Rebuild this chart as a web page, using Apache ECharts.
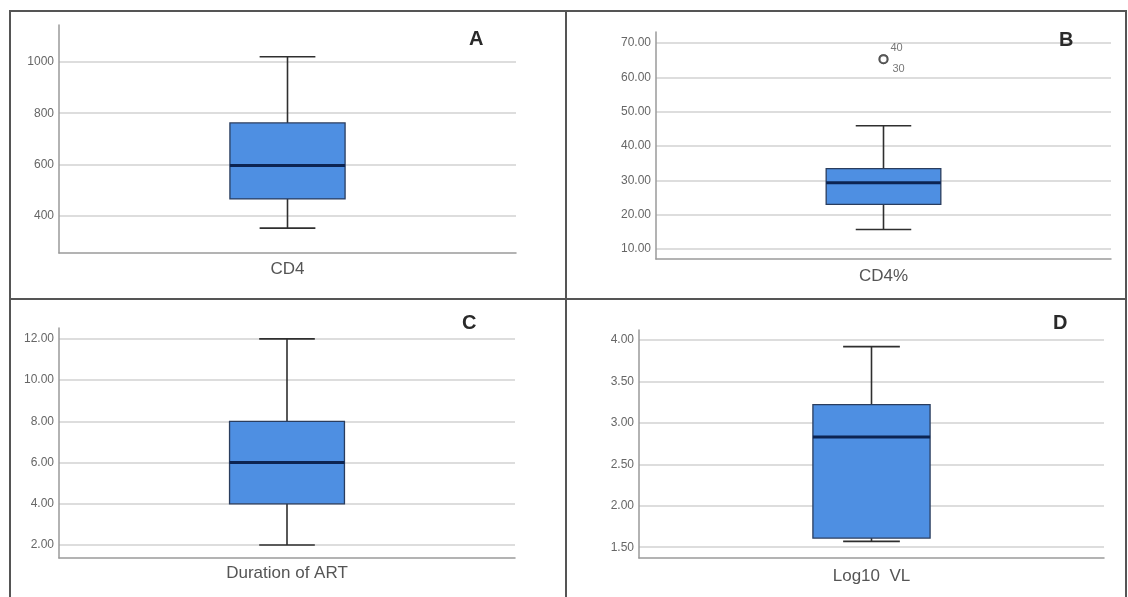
<!DOCTYPE html>
<html><head><meta charset="utf-8">
<script src="https://cdn.jsdelivr.net/npm/echarts@6/dist/echarts.min.js"></script>
<style>html,body{margin:0;padding:0;background:#fff}#c{width:1128px;height:597px}</style>
</head><body><div id="c"></div>
<script>
const categories = ['CD4', 'CD4%', 'Duration of ART', 'Log10  VL'];
const panelLetters = ['A', 'B', 'C', 'D'];
// [lower whisker, Q1, median, Q3, upper whisker]
const statsCD4 = [352, 466, 596, 762, 1020];
const statsCD4pct = [15.7, 23.0, 29.3, 33.4, 45.9];
const statsART = [2, 4, 6, 8, 12];
const statsVL = [1.57, 1.61, 2.83, 3.22, 3.92];
const outliersCD4pct = [65.3, 65.3];
const outlierCaseIds = ['40', '30'];
const ticksCD4 = [400, 600, 800, 1000];
const ticksCD4pct = [10, 20, 30, 40, 50, 60, 70];
const ticksART = [2, 4, 6, 8, 10, 12];
const ticksVL = [1.5, 2, 2.5, 3, 3.5, 4];
const rangeCD4 = [255, 1144];
const rangeCD4pct = [7.1, 73.2];
const rangeART = [1.37, 12.53];
const rangeVL = [1.37, 4.12];

const allStats = [statsCD4, statsCD4pct, statsART, statsVL];
const allTicks = [ticksCD4, ticksCD4pct, ticksART, ticksVL];
const allRanges = [rangeCD4, rangeCD4pct, rangeART, rangeVL];
const decimals = [0, 2, 2, 2];

const grids = [
  {left: 59, top: 25, width: 457, height: 228},
  {left: 656, top: 32, width: 455, height: 227},
  {left: 59, top: 328, width: 456, height: 230},
  {left: 639, top: 330, width: 465, height: 228}
];
const labelMargins = [8, 9, 7, 10];

function boxRender(params, api) {
  const x = api.value(0);
  const lo = api.coord([x, api.value(1)]);
  const q1 = api.coord([x, api.value(2)]);
  const md = api.coord([x, api.value(3)]);
  const q3 = api.coord([x, api.value(4)]);
  const hi = api.coord([x, api.value(5)]);
  const band = api.size([1, 0])[0];
  const bw = band * 0.252, cw = band * 0.122;
  const cx = lo[0];
  const ws = {stroke: '#2f2f2f', lineWidth: 1.6};
  return {type: 'group', children: [
    {type: 'line', shape: {x1: cx, y1: hi[1], x2: cx, y2: q3[1]}, style: ws},
    {type: 'line', shape: {x1: cx, y1: q1[1], x2: cx, y2: lo[1]}, style: ws},
    {type: 'line', shape: {x1: cx - cw / 2, y1: hi[1], x2: cx + cw / 2, y2: hi[1]}, style: ws},
    {type: 'line', shape: {x1: cx - cw / 2, y1: lo[1], x2: cx + cw / 2, y2: lo[1]}, style: ws},
    {type: 'rect', shape: {x: cx - bw / 2, y: q3[1], width: bw, height: q1[1] - q3[1]},
      style: {fill: '#4e8fe2', stroke: '#2a3d5e', lineWidth: 1.3}},
    {type: 'line', shape: {x1: cx - bw / 2, y1: md[1], x2: cx + bw / 2, y2: md[1]},
      style: {stroke: '#0c2452', lineWidth: 3}}
  ]};
}

const FONT = 'Liberation Sans, Arial, sans-serif';
const xAxes = [], yAxes = [], series = [], titles = [];
const letterPos = [[464, 24], [1054, 25], [457, 308], [1048, 308]];
for (let i = 0; i < 4; i++) {
  xAxes.push({
    type: 'category', gridIndex: i, data: [categories[i]],
    axisLine: {show: true, lineStyle: {color: '#9a9a9a', width: 1.5}},
    axisTick: {show: false},
    axisLabel: {color: '#555', fontSize: 17, margin: labelMargins[i], fontFamily: FONT},
    splitLine: {show: false}
  });
  const dec = decimals[i];
  yAxes.push({
    type: 'value', gridIndex: i, min: allRanges[i][0], max: allRanges[i][1],
    axisLine: {show: true, lineStyle: {color: '#9a9a9a', width: 1.5}},
    axisTick: {show: false, customValues: allTicks[i]},
    axisLabel: {customValues: allTicks[i], color: '#666', fontSize: 12, margin: 5,
      fontFamily: FONT,
      formatter: v => Number(v).toFixed(dec)},
    splitLine: {show: true, lineStyle: {color: '#d2d2d2', width: 1.6}}
  });
  series.push({
    type: 'custom', xAxisIndex: i, yAxisIndex: i,
    renderItem: boxRender,
    encode: {x: 0, y: [1, 2, 3, 4, 5]},
    data: [[categories[i]].concat(allStats[i])],
    z: 3
  });
  titles.push({
    text: panelLetters[i], left: letterPos[i][0], top: letterPos[i][1],
    textStyle: {fontSize: 20, fontWeight: 'bold', color: '#2a2a2a', fontFamily: FONT}
  });
}
series.push({
  type: 'scatter', xAxisIndex: 1, yAxisIndex: 1,
  symbol: 'emptyCircle', symbolSize: 8,
  itemStyle: {color: '#444', borderWidth: 1.5},
  data: outliersCD4pct.map((v, k) => ({
    value: [categories[1], v], name: outlierCaseIds[k],
    label: {show: true, formatter: '{b}', position: 'right', distance: 2,
      offset: k === 0 ? [0, -11] : [2, 10], fontSize: 11, color: '#555', fontFamily: FONT}
  })),
  z: 4
});

const chart = echarts.init(document.getElementById('c'), null, {renderer: 'canvas'});
chart.setOption({
  backgroundColor: '#fff',
  animation: false,
  title: titles,
  grid: grids,
  xAxis: xAxes,
  yAxis: yAxes,
  series: series,
  graphic: [
    {type: 'rect', shape: {x: 10, y: 11, width: 1116, height: 600}, style: {fill: 'none', stroke: '#555', lineWidth: 2}, silent: true},
    {type: 'line', shape: {x1: 566, y1: 11, x2: 566, y2: 597}, style: {stroke: '#555', lineWidth: 2}, silent: true},
    {type: 'line', shape: {x1: 10, y1: 299, x2: 1126, y2: 299}, style: {stroke: '#555', lineWidth: 2}, silent: true}
  ]
});
</script>
</body></html>
